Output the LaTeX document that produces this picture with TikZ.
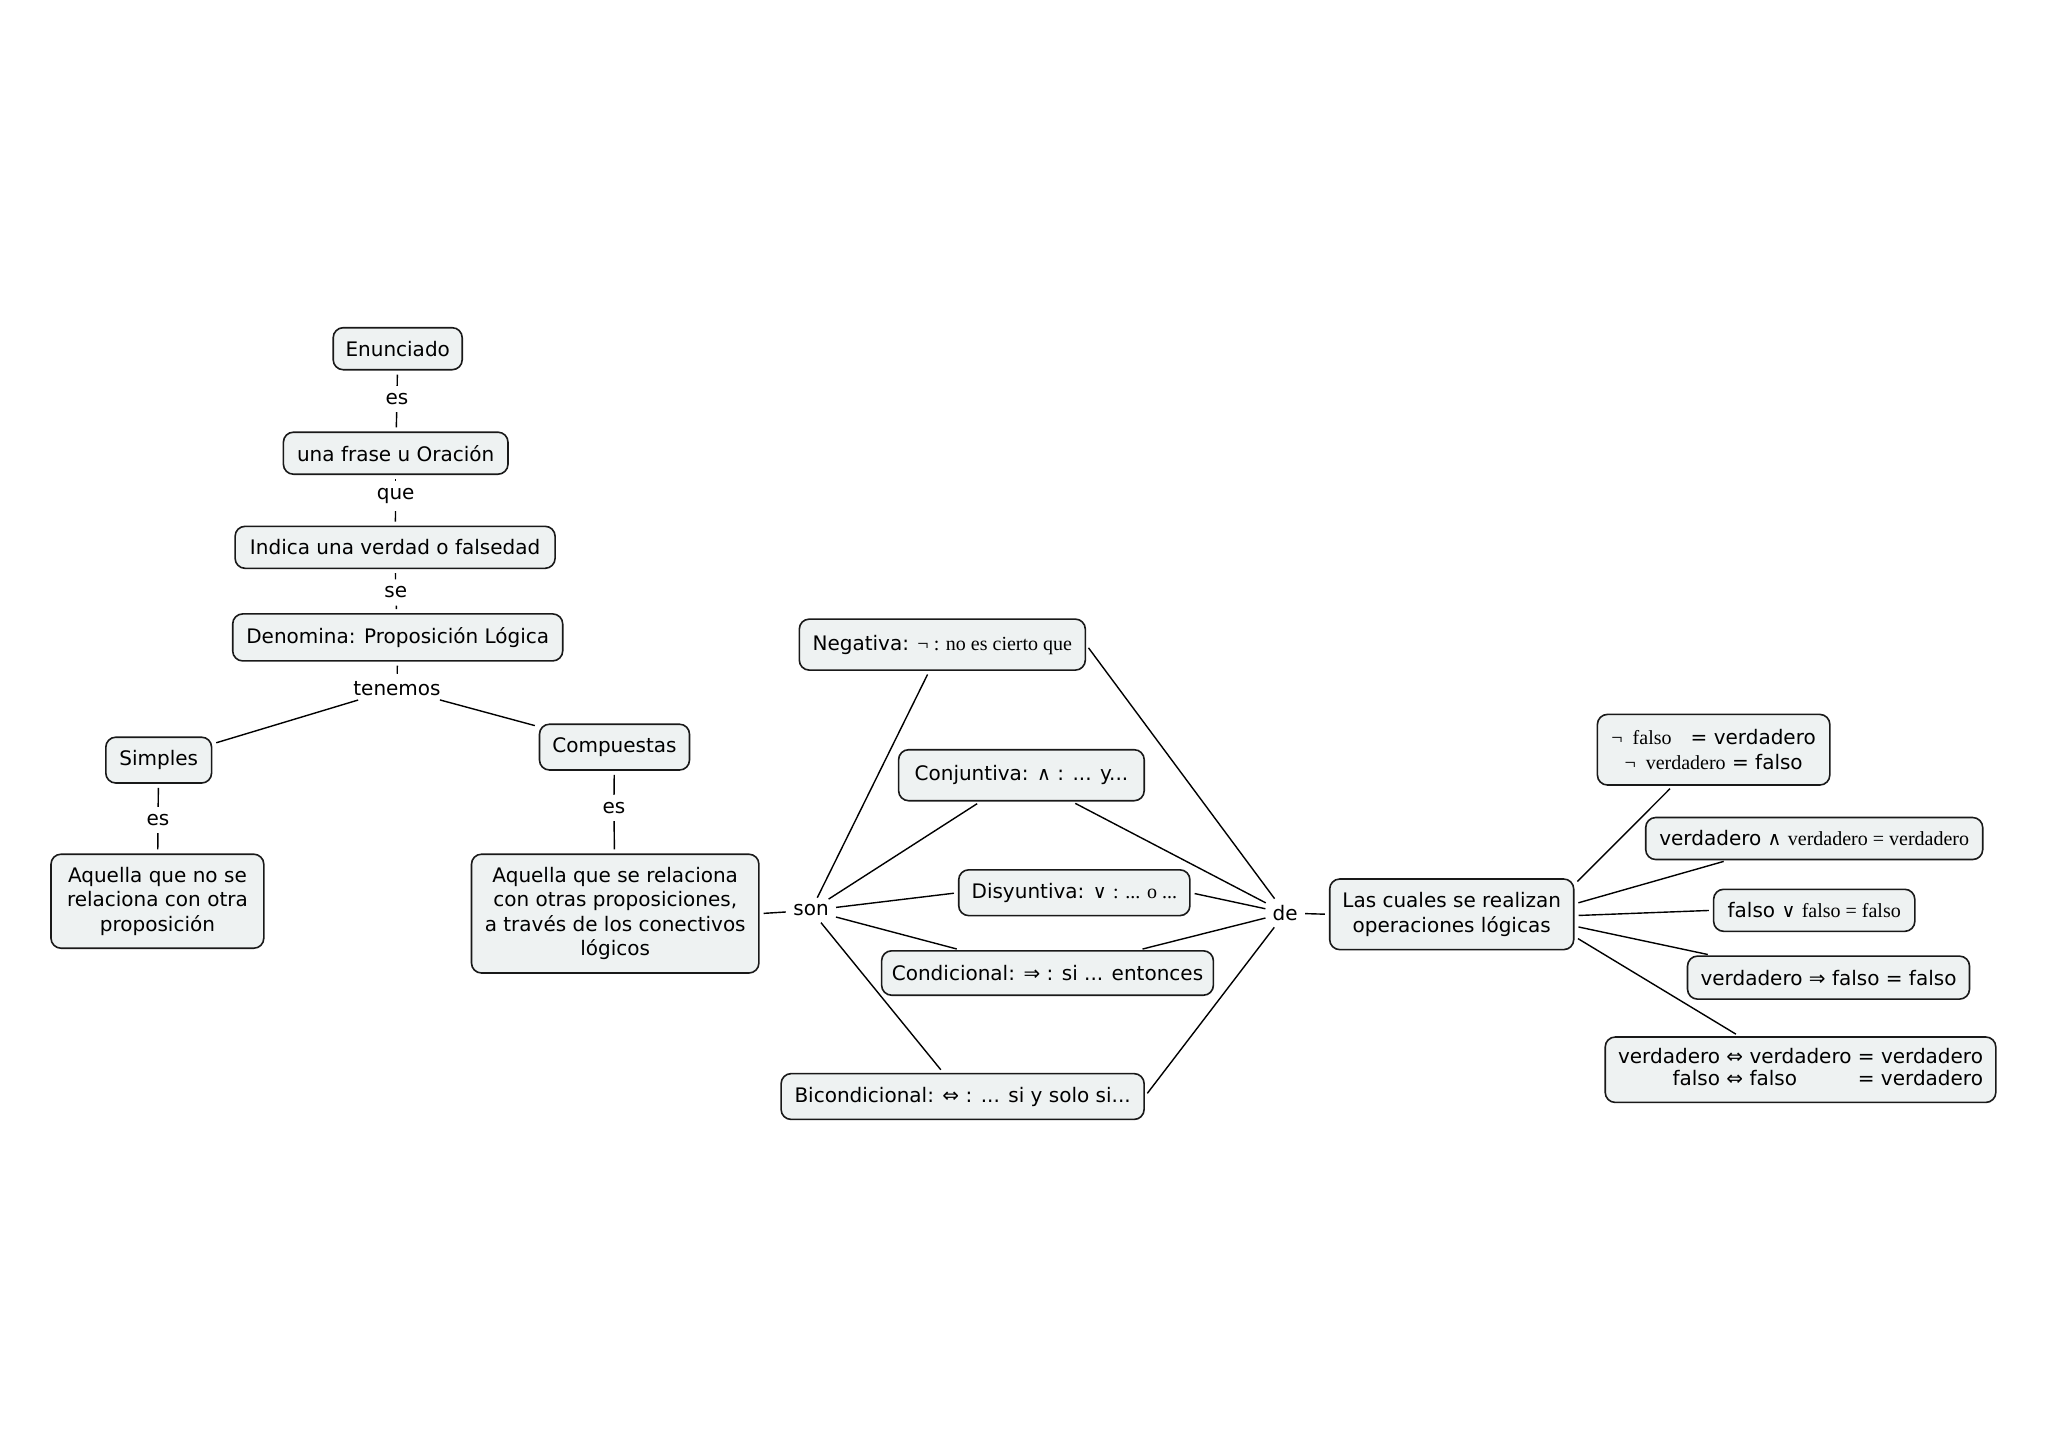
\documentclass[tikz,border=0pt]{standalone}
\usepackage{fontspec}
\setmainfont{DejaVu Sans}
\newfontfamily\serf{Liberation Serif}
\usetikzlibrary{calc}
\definecolor{boxfill}{RGB}{238,242,242}
\begin{document}
\begin{tikzpicture}[x=0.5pt,y=-0.5pt,
  box/.style={draw=black!90,line width=0.8pt,rounded corners=5pt,fill=boxfill,align=center,inner sep=2pt,font=\fontsize{10}{12.2}\selectfont},
  lbl/.style={inner sep=1.5pt,font=\fontsize{10}{12}\selectfont},
  con/.style={line width=0.7pt,shorten >=2pt,shorten <=2pt}]
\useasboundingbox[fill=white] (0,0) rectangle (2048,1447);

% left column
\node[box,minimum width=64.5pt,minimum height=21pt] (enun) at (397.7,348.7) {Enunciado};
\node[box,minimum width=112.3pt,minimum height=21pt] (frase) at (395.7,453.2) {una frase u Oración};
\node[box,minimum width=160pt,minimum height=21pt] (indica) at (395.1,547.3) {Indica una verdad o falsedad};
\node[box,minimum width=165pt,minimum height=23.5pt] (denom) at (397.7,637.4) {Denomina: Proposición Lógica};
\node[box,minimum width=52.9pt,minimum height=22.9pt] (simples) at (158.7,760.1) {Simples};
\node[box,minimum width=75pt,minimum height=22.9pt] (compu) at (614.5,747.1) {Compuestas};
\node[box,minimum width=106.4pt,minimum height=47pt] (aqno) at (157.4,901.2) {Aquella que no se\\relaciona con otra\\proposición};
\node[box,minimum width=143.7pt,minimum height=59.4pt] (aqse) at (615.2,913.6) {Aquella que se relaciona\\con otras proposiciones,\\a través de los conectivos\\lógicos};

\node[lbl] (es1) at (397,399) {es};
\node[lbl] (que) at (395.7,496) {que};
\node[lbl] (se) at (395.7,592.5) {se};
\node[lbl] (ten) at (397,688.3) {tenemos};
\node[lbl] (es2) at (158,820) {es};
\node[lbl] (es3) at (613.9,808) {es};

% connectives
\node[box,minimum width=143pt,minimum height=25.5pt] (neg) at (942.3,644.6) {Negativa: {\serf ¬ : no es cierto que}};
\node[box,minimum width=122.8pt,minimum height=25.5pt] (conj) at (1021.4,775.2) {Conjuntiva: {\fontsize{9.5}{10}\selectfont∧} : ... y...};
\node[box,minimum width=115.6pt,minimum height=22.9pt] (disy) at (1074.3,892.7) {Disyuntiva: {\fontsize{9.5}{10}\selectfont∨} {\serf : ... o ...}};
\node[box,minimum width=165.9pt,minimum height=22.2pt] (cond) at (1047.5,973.0) {Condicional: ⇒ : si ... entonces};
\node[box,minimum width=181.5pt,minimum height=22.9pt] (bic) at (962.6,1096.5) {Bicondicional: ⇔ : ... si y solo si...};

\node[lbl] (son) at (811,910.4) {son};
\node[lbl] (de) at (1285.2,913) {de};

% right
\node[box,minimum width=122pt,minimum height=35.3pt] (cuales) at (1451.7,914.3) {Las cuales se realizan\\operaciones lógicas};
\node[box,minimum width=116.2pt,minimum height=35.3pt] (nf) at (1713.6,749.7) {{\serf ¬\ \ falso}\ \ \ = verdadero\\{\serf ¬\ \ verdadero} = falso};
\node[box,minimum width=168.5pt,minimum height=21pt] (and) at (1814.2,838.5) {verdadero {\fontsize{9.5}{10}\selectfont∧} {\serf verdadero = verdadero}};
\node[box,minimum width=100.6pt,minimum height=21pt] (or) at (1814.2,910.3) {falso {\fontsize{9.5}{10}\selectfont∨} {\serf falso = falso}};
\node[box,minimum width=141pt,minimum height=21.5pt] (imp) at (1828.5,977.6) {verdadero ⇒ falso = falso};
\node[box,minimum width=195.3pt,minimum height=32.7pt] (iff) at (1800.5,1069.7) {\begin{tabular}{@{}c@{\ }l@{}}verdadero ⇔ verdadero & = verdadero\\[-1.2pt] falso ⇔ falso & = verdadero\end{tabular}};

% connectors left
\draw[con] (enun) -- (es1);
\draw[con] (es1) -- (frase);
\draw[con] (frase) -- (que);
\draw[con] (que) -- (indica);
\draw[con] (indica) -- (se);
\draw[con] (se) -- (denom);
\draw[con] (denom) -- (ten);
\draw[con] (ten) -- (simples);
\draw[con] (ten) -- (compu);
\draw[con] (simples) -- (es2);
\draw[con] (es2) -- (aqno);
\draw[con] (compu) -- (es3);
\draw[con] (es3) -- (aqse);
\draw[con] (aqse.east) -- (son);

% son
\draw[con] (son) -- (neg);
\draw[con] (son) -- (conj);
\draw[con] (son) -- (disy.west);
\draw[con] (son) -- (cond);
\draw[con] (son) -- (bic);

% de
\draw[con] (neg.east) -- (de);
\draw[con] (conj) -- (de);
\draw[con] (disy.east) -- (de);
\draw[con] (cond) -- (de);
\draw[con] (bic.east) -- (de);
\draw[con] (de) -- (cuales.west);

% right fan
\draw[con] ($(cuales.east)+(0,-30)$) -- ($(nf.south west)!0.326!(nf.south east)$);
\draw[con] ($(cuales.east)+(0,-10.4)$) -- ($(and.south west)!0.244!(and.south east)$);
\draw[con] ($(cuales.east)+(0,1.3)$) -- (or.west);
\draw[con] ($(cuales.east)+(0,11.8)$) -- ($(imp.north west)!0.088!(imp.north east)$);
\draw[con] ($(cuales.east)+(0,22.2)$) -- ($(iff.north west)!0.344!(iff.north east)$);
\end{tikzpicture}
\end{document}
